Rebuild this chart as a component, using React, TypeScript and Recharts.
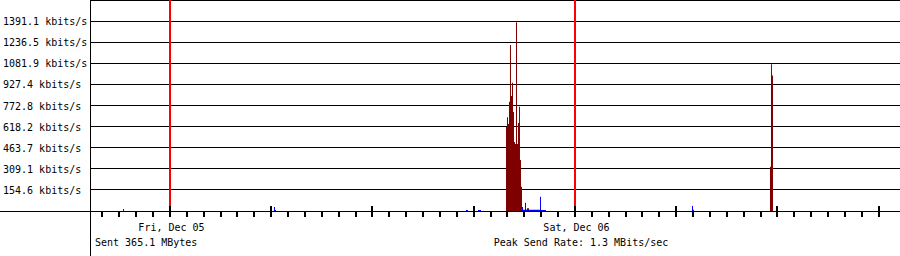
import React from 'react';
import {
  ComposedChart,
  Area,
  XAxis,
  YAxis,
  CartesianGrid,
  ReferenceLine,
} from 'recharts';

// time axis: minutes since Fri Dec 05 00:00, 48h window
const START_MIN = -284.4;
const END_MIN = 2595.6;

// hourly ticks, every 6th is a major one
const TICK_HOURS = [-4, -3, -2, -1, 0, 1, 2, 3, 4, 5, 6, 7, 8, 9, 10, 11, 12, 13, 14, 15, 16, 17, 18, 19, 20, 21, 22, 23, 24, 25, 26, 27, 28, 29, 30, 31, 32, 33, 34, 35, 36, 37, 38, 39, 40, 41, 42];
const DAY_LABELS: Record<number, string> = { 0: 'Fri, Dec 05', 24: 'Sat, Dec 06' };
const MIDNIGHTS = [0, 1440];

const Y_MAX = 1545.6;
const Y_TICKS = [154.6, 309.1, 463.7, 618.2, 772.8, 927.4, 1081.9, 1236.5, 1391.1];

// step samples (value holds until next time)
const TIMES = [
  -284.4, -167.1, -163.6, 369.8, 373.3, 376.9, 1052.4, 1059.6, 1095.1, 1105.8,
  1194.7, 1198.2, 1201.8, 1205.3, 1208.9, 1212.4, 1216.0, 1219.6, 1223.1, 1226.7,
  1230.2, 1233.8, 1237.3, 1240.9, 1244.4, 1248.0,
  1251.6, 1255.1, 1262.2, 1265.8, 1269.3, 1276.4, 1315.6, 1319.1, 1336.9,
  1856.0, 1859.6, 1863.1, 2133.3, 2136.9, 2140.4, 2144.0, 2595.6,
];
const SENT = [
  0, 0, 0, 0, 8, 0, 0, 0, 0, 0,
  615, 686, 637, 801, 1216, 842, 940, 725, 505, 491,
  1382, 491, 645, 764, 374, 178,
  30, 0, 0, 0, 20, 0, 0, 0, 0,
  0, 10, 0, 325, 1075, 992, 0, 0,
];
const RECV = [
  0, 15, 0, 29, 8, 0, 8, 0, 8, 0,
  0, 0, 0, 0, 0, 0, 0, 0, 0, 0,
  0, 0, 0, 0, 0, 0,
  30, 10, 60, 10, 10, 10, 105, 8, 0,
  37, 8, 0, 0, 0, 0, 0, 0,
];

const data = TIMES.map((t, i) => ({ t, sent: SENT[i], recv: RECV[i] }));

const FONT = '"DejaVu Sans Mono", monospace';
const AXIS_Y = 211;

function TimeTick({ x, payload }: { x?: number; payload?: { value: number } }) {
  const h = (payload?.value ?? 0) / 60;
  const major = h % 6 === 0;
  const px = Math.round(x ?? 0) - 1;
  const label = DAY_LABELS[h];
  return (
    <g>
      <rect x={px} y={major ? AXIS_Y - 5 : AXIS_Y + 1} width={2} height={major ? 11 : 5} fill="#000" />
      {label && (
        <text x={(x ?? 0) + 1.5} y={231} textAnchor="middle" fontSize={10} fontFamily={FONT} fill="#000">
          {label}
        </text>
      )}
    </g>
  );
}

function RateTick({ y, payload }: { y?: number; payload?: { value: number } }) {
  return (
    <text x={3} y={(y ?? 0) + 4} fontSize={10} fontFamily={FONT} fill="#000">
      {`${(payload?.value ?? 0).toFixed(1)} kbits/s`}
    </text>
  );
}

export default function App() {
  return (
    <div style={{ position: 'absolute', left: 0, top: 0, width: 900, height: 256, background: '#fff' }}>
      <ComposedChart width={900} height={256} data={data} margin={{ top: 0, right: 0, bottom: 0, left: 0 }}>
        <CartesianGrid horizontal vertical={false} stroke="#000" strokeDasharray="" shapeRendering="crispEdges" />
        <XAxis
          dataKey="t"
          type="number"
          domain={[START_MIN, END_MIN]}
          ticks={TICK_HOURS.map((h) => h * 60)}
          interval={0}
          height={45}
          axisLine={false}
          tickLine={false}
          tick={<TimeTick />}
        />
        <YAxis
          type="number"
          domain={[0, Y_MAX]}
          ticks={Y_TICKS}
          interval={0}
          width={90}
          axisLine={false}
          tickLine={false}
          tick={<RateTick />}
        />
        <Area type="stepAfter" dataKey="sent" fill="#7f0000" fillOpacity={1} stroke="none" isAnimationActive={false} />
        <Area type="stepAfter" dataKey="recv" fill="#0000ff" fillOpacity={1} stroke="none" isAnimationActive={false} />
        {MIDNIGHTS.map((m) => (
          <ReferenceLine key={m} x={m} stroke="#ff0000" strokeWidth={2} shapeRendering="crispEdges" />
        ))}
      </ComposedChart>

      {/* frame lines and footer text */}
      <svg width={900} height={256} style={{ position: 'absolute', left: 0, top: 0, pointerEvents: 'none' }}>
        <line x1={0} y1={AXIS_Y + 0.5} x2={900} y2={AXIS_Y + 0.5} stroke="#000" strokeWidth={1} shapeRendering="crispEdges" />
        <line x1={90.5} y1={0} x2={90.5} y2={256} stroke="#000" strokeWidth={1} shapeRendering="crispEdges" />
        <text x={95} y={246} fontSize={10} fontFamily={FONT} fill="#000">Sent 365.1 MBytes</text>
        <text x={581} y={246} textAnchor="middle" fontSize={10} fontFamily={FONT} fill="#000">Peak Send Rate: 1.3 MBits/sec</text>
      </svg>
    </div>
  );
}
